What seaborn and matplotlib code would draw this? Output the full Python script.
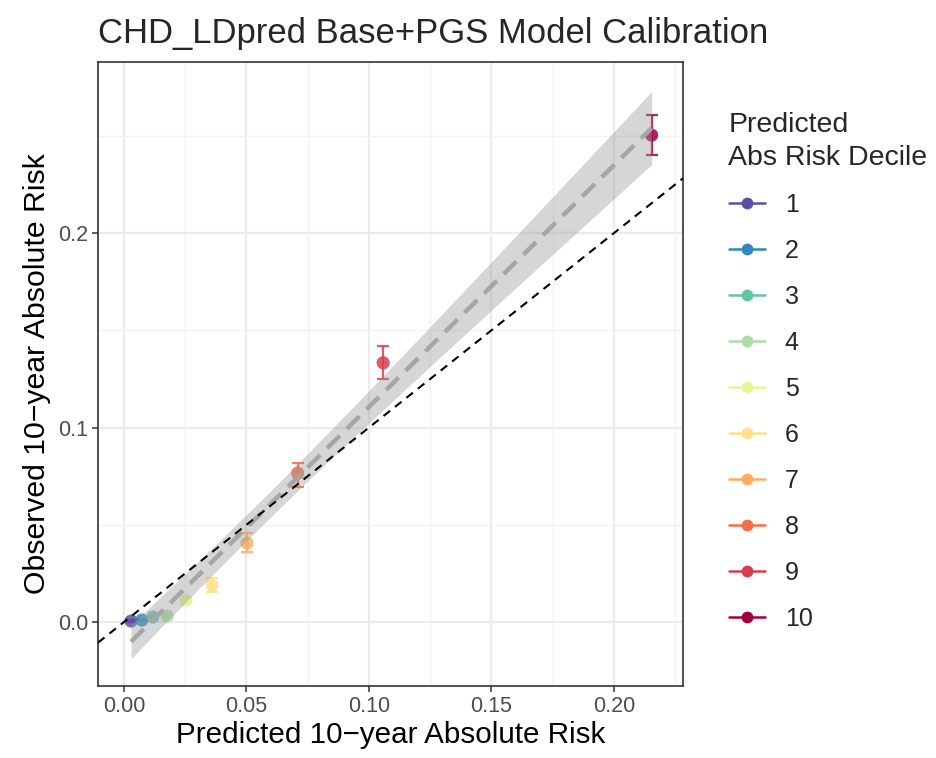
import numpy as np
import pandas as pd
import matplotlib
matplotlib.use("Agg")
import matplotlib.pyplot as plt
from matplotlib.lines import Line2D
from matplotlib.ticker import MultipleLocator
import seaborn as sns

# Calibration by decile of predicted absolute risk
deciles = [1, 2, 3, 4, 5, 6, 7, 8, 9, 10]
predicted = [0.0029, 0.0073, 0.0118, 0.0176, 0.0253, 0.0359, 0.0502, 0.0709, 0.1058, 0.2154]
observed = [0.0005, 0.0010, 0.0026, 0.0030, 0.0112, 0.0190, 0.0406, 0.0766, 0.1333, 0.2504]
obs_lower = [0.0002, 0.0006, 0.0020, 0.0023, 0.0100, 0.0155, 0.0360, 0.0695, 0.1248, 0.2401]
obs_upper = [0.0008, 0.0014, 0.0032, 0.0037, 0.0124, 0.0226, 0.0457, 0.0820, 0.1417, 0.2607]
decile_colors = ["#5E4FA2", "#3288BD", "#66C2A5", "#ABDDA4", "#E6F598",
                 "#FEE08B", "#FDAE61", "#F46D43", "#D53E4F", "#9E0142"]

df = pd.DataFrame({"decile": [str(d) for d in deciles], "pred": predicted,
                   "obs": observed, "lo": obs_lower, "hi": obs_upper})

sns.set_theme(style="white")
plt.rcParams["font.family"] = ["Liberation Sans", "DejaVu Sans"]

fig = plt.figure(figsize=(9.37, 7.58), dpi=100)
ax = fig.add_axes([98 / 937, 1 - 686 / 758, 585 / 937, 624 / 758])

xlim = (-0.0106, 0.2282)
ylim = (-0.0329, 0.288)
ax.set_xlim(*xlim)
ax.set_ylim(*ylim)

# grid
ax.xaxis.set_major_locator(MultipleLocator(0.05))
ax.xaxis.set_minor_locator(MultipleLocator(0.025))
ax.yaxis.set_major_locator(MultipleLocator(0.1))
ax.yaxis.set_minor_locator(MultipleLocator(0.05))
ax.grid(True, which="major", color="#EBEBEB", lw=1.6, zorder=0)
ax.grid(True, which="minor", color="#F2F2F2", lw=1.0, zorder=0)
ax.set_axisbelow(True)

palette = dict(zip(df["decile"], decile_colors))

# error bars and points
for _, r in df.iterrows():
    ax.errorbar(r["pred"], r["obs"], yerr=[[r["obs"] - r["lo"]], [r["hi"] - r["obs"]]],
                fmt="none", ecolor=palette[r["decile"]], elinewidth=1.6,
                capsize=4, capthick=1.6, alpha=0.85, zorder=3)
sns.scatterplot(data=df, x="pred", y="obs", hue="decile", palette=palette,
                s=90, edgecolor="none", alpha=0.85, legend=False, ax=ax, zorder=4)

# linear fit with 95% confidence band
x = np.asarray(predicted)
y = np.asarray(observed)
n = len(x)
b1, b0 = np.polyfit(x, y, 1)
xs = np.linspace(x.min(), x.max(), 100)
fit = b0 + b1 * xs
resid = y - (b0 + b1 * x)
s = np.sqrt(np.sum(resid ** 2) / (n - 2))
sxx = np.sum((x - x.mean()) ** 2)
se = s * np.sqrt(1 / n + (xs - x.mean()) ** 2 / sxx)
tcrit = 2.306
ax.fill_between(xs, fit - tcrit * se, fit + tcrit * se, color="#999999",
                alpha=0.4, lw=0, zorder=5)
ax.plot(xs, fit, color="#A6A6A6", lw=3.2, dashes=(4, 2.2), zorder=6)

# identity line
ax.axline((0, 0), slope=1, color="black", lw=1.5, dashes=(4, 3), zorder=7)

for sp in ax.spines.values():
    sp.set_color("#333333")
    sp.set_linewidth(1.2)

ax.tick_params(axis="both", which="major", length=4, width=1.1, color="#333333",
               labelsize=15.5, labelcolor="#4D4D4D", pad=3, bottom=True, left=True)
ax.tick_params(axis="both", which="minor", length=0)
ax.set_xticks([0.0, 0.05, 0.10, 0.15, 0.20])
ax.set_xticklabels(["0.00", "0.05", "0.10", "0.15", "0.20"])
ax.set_yticks([0.0, 0.1, 0.2])
ax.set_yticklabels(["0.0", "0.1", "0.2"])

ax.set_xlabel("Predicted 10\u2212year Absolute Risk", fontsize=21.3, color="black", labelpad=3)
ax.set_ylabel("Observed 10\u2212year Absolute Risk", fontsize=21.8, color="black", labelpad=5)
fig.text(98 / 937, 1 - 33 / 758, "CHD_LDpred Base+PGS Model Calibration",
         fontsize=24.9, ha="left", va="center")

handles = [Line2D([0], [0], color=c, lw=1.8, marker="o", markersize=8.5,
                  markeredgewidth=0) for c in decile_colors]
leg = fig.legend(handles, [str(d) for d in deciles], title="Predicted\nAbs Risk Decile",
                 loc="upper left", bbox_to_anchor=(706 / 937, 1 - 89 / 758),
                 frameon=False, fontsize=18, title_fontsize=20.5,
                 handlelength=1.45, labelspacing=0.88, handletextpad=0.8,
                 alignment="left")
leg.get_title().set_linespacing(1.38)

fig.savefig("out.png", dpi=100)
